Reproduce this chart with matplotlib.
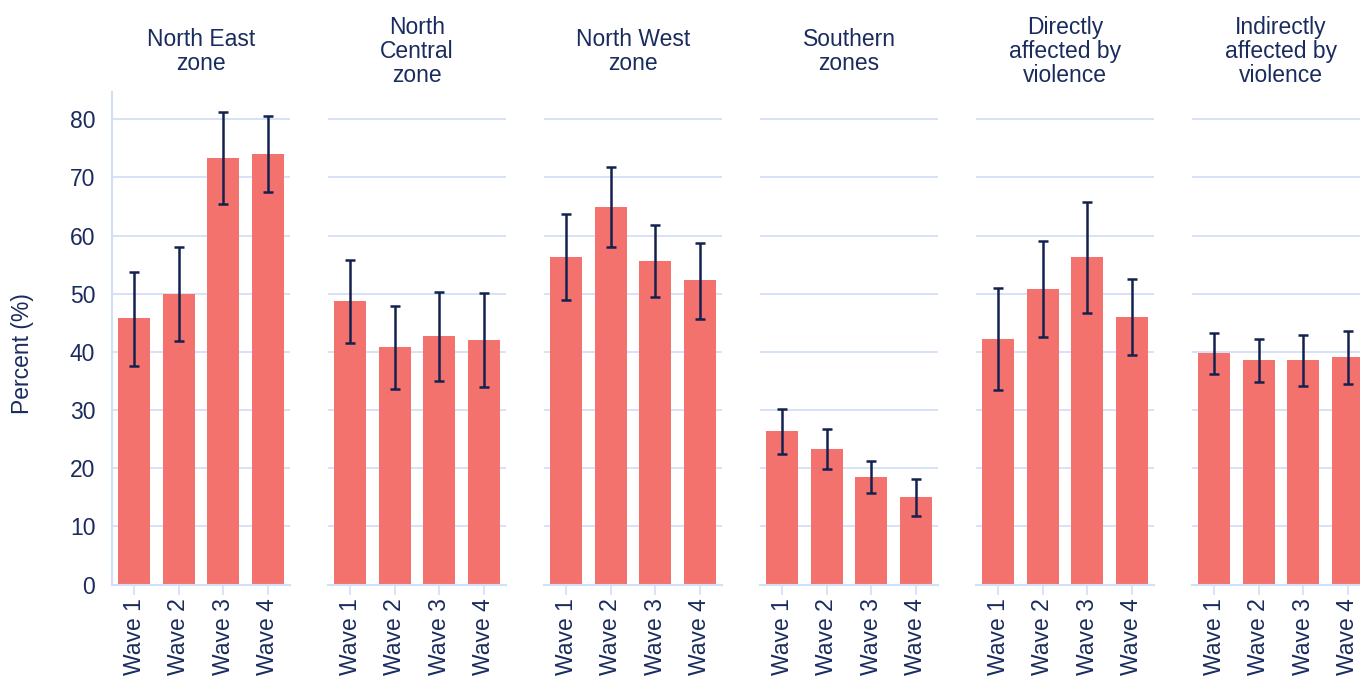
import matplotlib
matplotlib.use("Agg")
import matplotlib.pyplot as plt
import numpy as np

plt.rcParams['font.family'] = ['Liberation Sans', 'DejaVu Sans']

panels = ["North East\nzone", "North\nCentral\nzone", "North West\nzone",
          "Southern\nzones", "Directly\naffected by\nviolence",
          "Indirectly\naffected by\nviolence"]
waves = ["Wave 1", "Wave 2", "Wave 3", "Wave 4"]

values = [
    [45.8, 49.9, 73.3, 74.0],
    [48.7, 40.8, 42.7, 42.0],
    [56.3, 64.9, 55.6, 52.4],
    [26.4, 23.3, 18.5, 15.0],
    [42.2, 50.8, 56.3, 46.0],
    [39.8, 38.6, 38.6, 39.1],
]
upper = [
    [53.8, 58.1, 81.2, 80.6],
    [55.8, 47.9, 50.3, 50.1],
    [63.8, 71.8, 61.8, 58.8],
    [30.2, 26.8, 21.2, 18.2],
    [51.0, 59.1, 65.8, 52.5],
    [43.2, 42.3, 42.9, 43.6],
]
lower = [
    [37.5, 41.9, 65.4, 67.5],
    [41.5, 33.6, 35.0, 34.0],
    [48.9, 58.0, 49.4, 45.7],
    [22.4, 19.8, 15.8, 11.8],
    [33.4, 42.6, 46.7, 39.4],
    [36.2, 34.9, 34.1, 34.5],
]
yticks = [0, 10, 20, 30, 40, 50, 60, 70, 80]

BAR = "#F4726E"
ERR = "#13214F"
TXT = "#1A2B5E"
GRID = "#D3DEF7"
FS = 16.5

W, H = 1360, 680
fig = plt.figure(figsize=(W / 100, H / 100), dpi=100)

ax_left = [112, 328, 544, 760, 976, 1192]
ax_w = 178
ax_top, ax_bot = 92, 584.5

x = np.arange(len(waves))
for i, name in enumerate(panels):
    ax = fig.add_axes([ax_left[i] / W, 1 - ax_bot / H, ax_w / W, (ax_bot - ax_top) / H])
    v = np.array(values[i])
    lo = v - np.array(lower[i])
    hi = np.array(upper[i]) - v
    ax.bar(x, v, width=0.72, color=BAR, zorder=2)
    ax.errorbar(x, v, yerr=[lo, hi], fmt='none', ecolor=ERR, elinewidth=1.8,
                capsize=3.6, capthick=1.8, zorder=3)
    ax.set_xlim(-0.5, 3.5)
    ax.set_ylim(0, 84.7)
    ax.set_yticks(yticks)
    ax.grid(axis='y', color=GRID, linewidth=1.3, zorder=0)
    ax.set_axisbelow(True)
    for s in ['top', 'right']:
        ax.spines[s].set_visible(False)
    ax.spines['bottom'].set_color(GRID)
    ax.spines['bottom'].set_linewidth(1.5)
    if i == 0:
        ax.spines['left'].set_color(GRID)
        ax.spines['left'].set_linewidth(1.5)
        ax.tick_params(axis='y', length=0, pad=12, labelsize=FS, labelcolor=TXT)
    else:
        ax.spines['left'].set_visible(False)
        ax.tick_params(axis='y', length=0, labelleft=False)
    ax.set_xticks(x)
    ax.set_xticklabels(waves, rotation=90, fontsize=FS, color=TXT)
    ax.tick_params(axis='x', length=7, width=1.2, color=GRID, pad=3)
    cx = (ax_left[i] + ax_w / 2) / W
    fig.text(cx, 1 - 51.5 / H, name, ha='center', va='center', multialignment='center',
             fontsize=FS, color=TXT, linespacing=1.06)

fig.text(22 / W, 1 - 354 / H, "Percent (%)", rotation=90, ha='center', va='center',
         fontsize=FS, color=TXT)

fig.savefig("out.png", dpi=100)
